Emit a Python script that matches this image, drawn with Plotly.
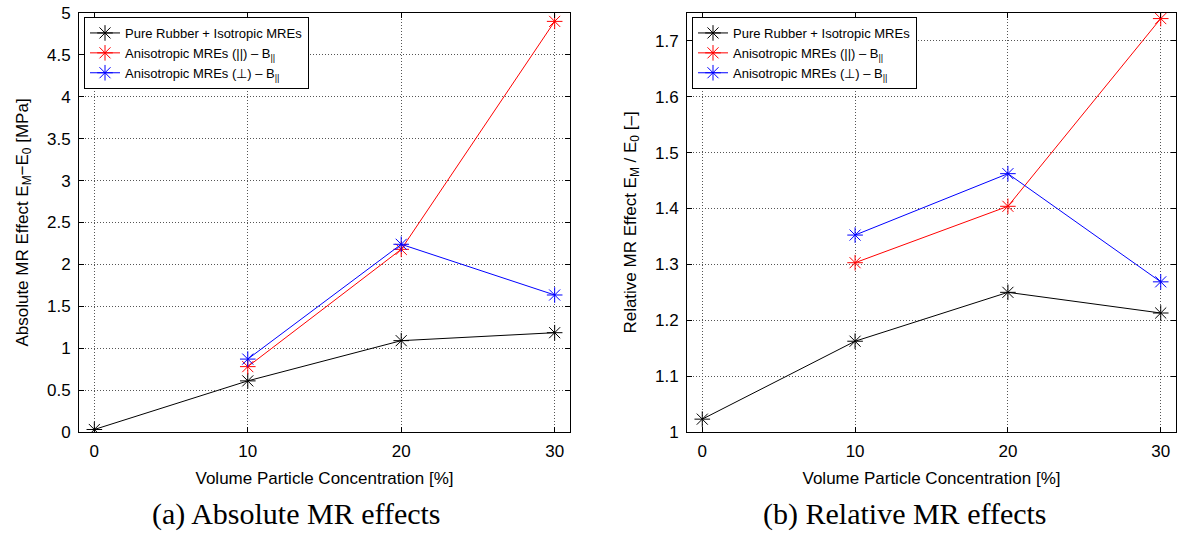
import plotly.graph_objects as go

# Volume particle concentration [%]
conc_iso = [0, 10, 20, 30]
conc_aniso = [10, 20, 30]

# Absolute MR effect E_M - E_0 [MPa]
abs_iso = [0.03, 0.61, 1.09, 1.185]
abs_par = [0.78, 2.18, 4.90]
abs_perp = [0.87, 2.24, 1.635]

# Relative MR effect E_M / E_0 [-]
rel_iso = [1.023, 1.1625, 1.250, 1.213]
rel_par = [1.303, 1.404, 1.740]
rel_perp = [1.3525, 1.4624, 1.2688]

names = [
    "Pure Rubber + Isotropic MREs",
    "Anisotropic MREs (||) – B<sub>||</sub>",
    "Anisotropic MREs (⊥) – B<sub>||</sub>",
]
colors = ["#000000", "#ff0000", "#0000ff"]

abs_ticks = [0, 0.5, 1, 1.5, 2, 2.5, 3, 3.5, 4, 4.5, 5]
rel_ticks = [1, 1.1, 1.2, 1.3, 1.4, 1.5, 1.6, 1.7]
x_ticks = [0, 10, 20, 30]

W, H = 1179, 533
SANS = "Liberation Sans, Arial, sans-serif"

fig = go.Figure()


def add_series(xs, ys, i, xa, ya, legend):
    fig.add_trace(go.Scatter(
        x=xs, y=ys, name=names[i], mode="lines+markers",
        line=dict(color=colors[i], width=1),
        marker=dict(symbol="asterisk-open", size=13,
                    line=dict(color=colors[i], width=1)),
        xaxis=xa, yaxis=ya, legend=legend,
    ))


add_series(conc_iso, abs_iso, 0, "x", "y", "legend")
add_series(conc_aniso, abs_par, 1, "x", "y", "legend")
add_series(conc_aniso, abs_perp, 2, "x", "y", "legend")
add_series(conc_iso, rel_iso, 0, "x2", "y2", "legend2")
add_series(conc_aniso, rel_par, 1, "x2", "y2", "legend2")
add_series(conc_aniso, rel_perp, 2, "x2", "y2", "legend2")

# plot area boundaries in pixels
L1, R1 = 79, 570
L2, R2 = 687, 1176
TOP, BOT = 13, 432

axis_common = dict(
    showline=True, linecolor="black", linewidth=1, mirror="ticks",
    ticks="inside", ticklen=5, tickcolor="black", tickwidth=1,
    showgrid=True, gridcolor="#555555", gridwidth=1, griddash="1px,2px",
    zeroline=False, tickfont=dict(family=SANS, size=17, color="black"),
    ticklabelstandoff=4, automargin=False,
)

xtitle = dict(text="Volume Particle Concentration [%]",
              font=dict(family=SANS, size=17, color="black"), standoff=11)

legend_common = dict(
    bgcolor="white", bordercolor="black", borderwidth=1,
    font=dict(family=SANS, size=13, color="black"),
    xanchor="left", yanchor="top", itemwidth=30,
    tracegroupgap=0,
)

fig.update_layout(
    width=W, height=H, autosize=False,
    margin=dict(l=0, r=0, t=0, b=0),
    paper_bgcolor="white", plot_bgcolor="white",
    xaxis=dict(domain=[L1 / W, R1 / W], range=[-1, 31], tickvals=x_ticks,
               title=xtitle, anchor="y", **axis_common),
    yaxis=dict(domain=[1 - BOT / H, 1 - TOP / H], range=[0, 5],
               tickvals=abs_ticks,
               ticktext=[f"{v:g}" for v in abs_ticks],
               title=dict(text="Absolute MR Effect E<sub>M</sub>−E<sub>0</sub> [MPa]",
                          font=dict(family=SANS, size=17, color="black"),
                          standoff=14),
               anchor="x", **axis_common),
    xaxis2=dict(domain=[L2 / W, R2 / W], range=[-1, 31], tickvals=x_ticks,
                title=xtitle, anchor="y2", **axis_common),
    yaxis2=dict(domain=[1 - BOT / H, 1 - TOP / H], range=[1, 1.75],
                tickvals=rel_ticks,
                ticktext=[f"{v:g}" for v in rel_ticks],
                title=dict(text="Relative MR Effect E<sub>M</sub> / E<sub>0</sub> [–]",
                           font=dict(family=SANS, size=17, color="black"),
                           standoff=14),
                anchor="x2", **axis_common),
    legend=dict(x=84 / W, y=1 - 17 / H, **legend_common),
    legend2=dict(x=692 / W, y=1 - 17 / H, **legend_common),
    showlegend=True,
)

SERIF = "Liberation Serif, Times New Roman, serif"
for label, cx in [("(a) Absolute MR effects", 297), ("(b) Relative MR effects", 905)]:
    fig.add_annotation(
        text=label, x=cx / W, y=1 - 514 / H, xref="paper", yref="paper",
        xanchor="center", yanchor="middle", showarrow=False,
        font=dict(family=SERIF, size=30, color="black"),
    )

fig.write_html("out.html")
